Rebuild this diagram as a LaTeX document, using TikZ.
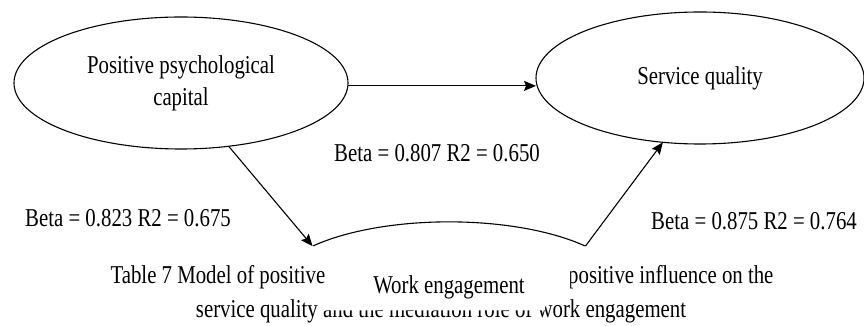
\documentclass[tikz,border=0pt]{standalone}
\usepackage{fontspec}
\setmainfont[FakeStretch=0.81]{Liberation Serif}
\usetikzlibrary{arrows.meta,shapes.geometric}

\begin{document}
\begin{tikzpicture}[>={Stealth[length=12pt,width=10pt,inset=2pt]},x=1pt,y=1pt,line width=1.1pt,
    font=\fontsize{25.7}{32}\selectfont,
    var/.style={ellipse,draw,inner sep=0pt,outer sep=0pt,align=center},
    txt/.style={inner sep=0pt}]
  \useasboundingbox (0,0) rectangle (864,326);

  \node[var,minimum width=334pt,minimum height=132pt] (pc) at (181,243) {Positive psychological\\capital};
  \node[var,minimum width=328pt,minimum height=132pt] (sq) at (700,248) {Service quality};

  % caption, partly hidden behind the mediator
  \node[txt,anchor=base west] (capA) at (110,42) {Table 7 Model of positive};
  \node[txt,anchor=base east] (capB) at (774,42) {positive influence on the};
  \node[txt,anchor=base] (capC) at (441,8) {service quality and the mediation role of work engagement};
  \fill[white] (335,82) -- (570,82) -- (570,26) -- (545,26) -- (545,15.5) -- (320,15.5) -- (320,26) -- (335,26) -- cycle;

  \node[var,draw=none,minimum width=352pt,minimum height=132pt,anchor=base] (we) at (449,32) {Work engagement};
  \draw (we.center) ++(39.5:176pt and 66pt) arc[start angle=39.5,end angle=140.5,x radius=176pt,y radius=66pt];

  \path[->]
  (pc.-1) edge (pc.-1 -| sq.west)
  (pc.-53) edge (we.163)
  (we.17) edge (sq.240)
  ;

  \node[txt,anchor=base] (b1) at (437,164) {Beta = 0.807 R2 = 0.650};
  \node[txt,anchor=base] (b2) at (128,99) {Beta = 0.823 R2 = 0.675};
  \node[txt,anchor=base] (b3) at (754,96) {Beta = 0.875 R2 = 0.764};
\end{tikzpicture}
\end{document}
